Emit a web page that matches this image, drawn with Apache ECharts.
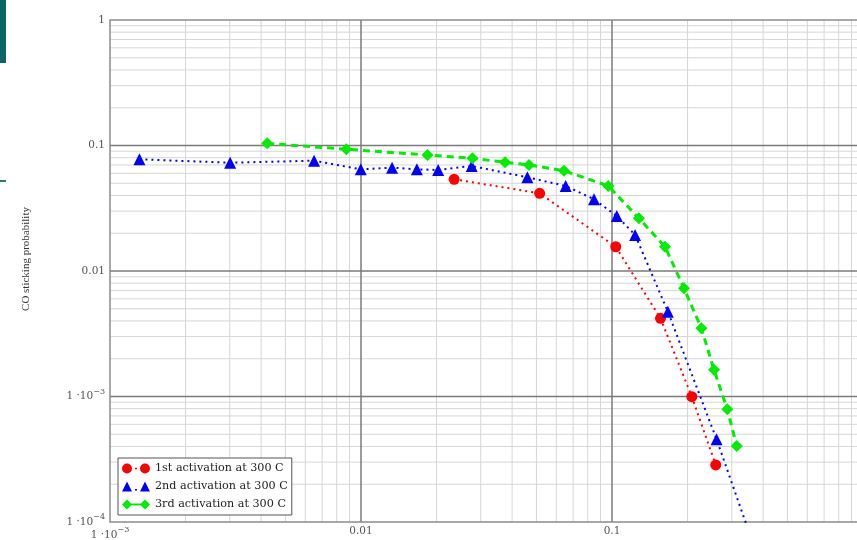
<!DOCTYPE html>
<html>
<head>
<meta charset="utf-8">
<script src="https://cdn.jsdelivr.net/npm/echarts@6/dist/echarts.min.js"></script>
<style>html,body{margin:0;padding:0;background:#fff;}#c{width:857px;height:540px;}</style>
</head>
<body>
<div id="c"></div>
<script>
// ---- data ----
const seriesNames = ['1st activation at 300 C', '2nd activation at 300 C', '3rd activation at 300 C'];
const act1X = [0.0235, 0.0515, 0.1035, 0.156, 0.208, 0.259];
const act1Y = [0.0538, 0.0416, 0.0156, 0.0042, 0.000996, 0.000285];
const act2X = [0.00131, 0.00301, 0.0065, 0.00998, 0.0133, 0.0167, 0.0203, 0.0276, 0.046, 0.0654, 0.0848, 0.1045, 0.1236, 0.167, 0.261, 0.41];
const act2Y = [0.0776, 0.0729, 0.0757, 0.0646, 0.0666, 0.0646, 0.0638, 0.0687, 0.0558, 0.0476, 0.0373, 0.0274, 0.0194, 0.00474, 0.000456, 0.0000345];
const act3X = [0.00423, 0.00874, 0.0184, 0.0278, 0.0375, 0.0467, 0.0644, 0.0967, 0.128, 0.1626, 0.1936, 0.227, 0.255, 0.288, 0.314];
const act3Y = [0.104, 0.0933, 0.084, 0.0791, 0.0735, 0.070, 0.063, 0.0476, 0.0263, 0.0156, 0.00728, 0.0035, 0.00163, 0.00079, 0.000403];
const yAxisName = 'CO sticking probability';
const xDecades = [0.001, 0.01, 0.1, 1];
const yDecades = [0.0001, 0.001, 0.01, 0.1, 1];
const minorSteps = [2, 3, 4, 5, 6, 7, 8, 9];

function zip(xs, ys) { return xs.map((x, i) => [x, ys[i]]); }
function fmt(v) {
  const e = Math.round(Math.log10(v));
  if (e >= -2) return String(+v.toPrecision(3));
  return '1 \u00B710{s|\u2212' + (-e) + '}';
}
function minorOf(decades) {
  const out = [];
  for (let i = 0; i < decades.length - 1; i++) minorSteps.forEach(m => out.push(+(decades[i] * m).toPrecision(3)));
  return out;
}
const xMin = xDecades[0], xMax = xDecades[xDecades.length - 1];
const yMin = yDecades[0], yMax = yDecades[yDecades.length - 1];
const minorStyle = { color: '#d6d6d6', width: 1, type: 'solid' };
const majorStyle = { color: '#7a7a7a', width: 1.5, type: 'solid' };
function gridSeries(v, isX, style, z) {
  return {
    type: 'line', silent: true, symbol: 'none', clip: false, z: z, animation: false,
    lineStyle: style, tooltip: { show: false },
    data: isX ? [[v, yMin], [v, yMax]] : [[xMin, v], [xMax, v]]
  };
}
const gridLineSeries = []
  .concat(minorOf(xDecades).map(v => gridSeries(v, true, minorStyle, 1)))
  .concat(minorOf(yDecades).map(v => gridSeries(v, false, minorStyle, 1)))
  .concat(xDecades.slice(1, -1).map(v => gridSeries(v, true, majorStyle, 1.5)))
  .concat(yDecades.slice(1, -1).map(v => gridSeries(v, false, majorStyle, 1.5)));

const labelFont = 'DejaVu Serif';
const labelColor = '#555';
const rich = { s: { fontSize: 8, fontFamily: labelFont, color: labelColor, padding: [0, 0, 10, 0] } };

const chart = echarts.init(document.getElementById('c'), null, { renderer: 'canvas' });
chart.setOption({
  animation: false,
  backgroundColor: '#fff',
  graphic: [
    { type: 'rect', left: 0, top: 0, shape: { width: 6, height: 63 }, style: { fill: '#0b6666' } },
    { type: 'rect', left: 0, top: 180, shape: { width: 6, height: 2 }, style: { fill: '#2a7a70' } }
  ],
  grid: { left: 110, top: 20, width: 753, height: 502, show: true, borderColor: '#8c8c8c', borderWidth: 1.5, containLabel: false, outerBoundsMode: 'none', z: 2 },
  legend: {
    orient: 'vertical', left: 118, top: 458, padding: [5, 4, 5, 4], itemGap: 7,
    itemWidth: 28, itemHeight: 10, backgroundColor: '#fff', borderColor: '#555', borderWidth: 1, borderRadius: 0,
    textStyle: { fontFamily: 'DejaVu Serif', fontSize: 11.2, color: '#222' },
    data: [
      { name: seriesNames[0], icon: 'path://M0,5a5,5 0 1,0 10,0a5,5 0 1,0 -10,0ZM13,4.2h2v1.6h-2ZM18,5a5,5 0 1,0 10,0a5,5 0 1,0 -10,0Z' },
      { name: seriesNames[1], icon: 'path://M0,10L5,0L10,10ZM13,7.4h2v1.6h-2ZM18,10L23,0L28,10Z' },
      { name: seriesNames[2], icon: 'path://M0,5L5,0L10,5L5,10ZM9,4h10v2h-10ZM18,5L23,0L28,5L23,10Z' }
    ]
  },
  xAxis: {
    type: 'log', logBase: 10, min: xMin, max: xMax,
    axisLine: { show: false }, axisTick: { show: false },
    axisLabel: { formatter: fmt, rich: rich, fontFamily: labelFont, fontSize: 10.5, color: labelColor, margin: 4, hideOverlap: false, showMinLabel: true, showMaxLabel: true },
    splitLine: { show: false }
  },
  yAxis: {
    type: 'log', logBase: 10, min: yMin, max: yMax,
    name: yAxisName, nameLocation: 'middle', nameRotate: 90, nameGap: 78,
    nameTextStyle: { fontFamily: 'Liberation Serif', fontSize: 11, color: '#333', padding: [0, 0, 0, 24] },
    axisLine: { show: false }, axisTick: { show: false },
    axisLabel: { formatter: fmt, rich: rich, fontFamily: labelFont, fontSize: 10.5, color: labelColor, margin: 5, hideOverlap: false, showMinLabel: true, showMaxLabel: true },
    splitLine: { show: false }
  },
  series: gridLineSeries.concat([
    { name: seriesNames[0], type: 'line', data: zip(act1X, act1Y), clip: true, symbol: 'circle', symbolSize: 11,
      itemStyle: { color: '#ff0000' }, lineStyle: { color: '#ff0000', width: 2, type: [2, 4] }, z: 3 },
    { name: seriesNames[1], type: 'line', data: zip(act2X, act2Y), clip: true, symbol: 'triangle', symbolSize: 12,
      itemStyle: { color: '#0000ff' }, lineStyle: { color: '#0000ff', width: 2, type: [2, 4] }, z: 4 },
    { name: seriesNames[2], type: 'line', data: zip(act3X, act3Y), clip: true, symbol: 'diamond', symbolSize: 12,
      itemStyle: { color: '#00ee00' }, lineStyle: { color: '#00ee00', width: 3, type: [7, 5] }, z: 5 }
  ])
});
</script>
</body>
</html>
